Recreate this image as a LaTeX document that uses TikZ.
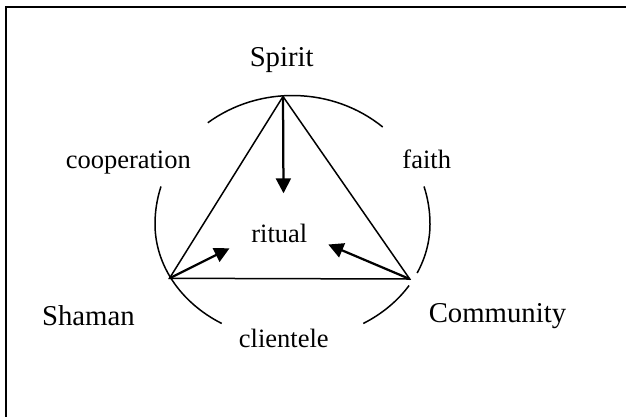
\documentclass[tikz,border=0pt]{standalone}
\usepackage{fontspec}
\setmainfont{Liberation Serif}
\usetikzlibrary{arrows.meta}

\tikzset{
  corner/.style={anchor=base,inner sep=0pt,font=\fontsize{11.5}{13}\selectfont},
  link/.style={anchor=base,inner sep=0pt,font=\fontsize{10.6}{12}\selectfont},
  side/.style={line width=0.6pt},
  flow/.style={line width=0.9pt,-{Triangle[length=6pt,width=6pt]}}
}

\begin{document}
\begin{tikzpicture}[x=0.4pt,y=0.4pt]
        \def\ra{55pt}   % half width of ring
        \def\rb{51.4pt} % upper half height
        \def\rc{46.4pt} % lower half height

        \useasboundingbox (0,0) rectangle (626,416);
        \clip (0,0) rectangle (626,416);
        \draw[line width=0.8pt] (6,-50) -- (6,409) -- (700,409);

        \coordinate (mid) at (292.5,192);
        \coordinate (sp) at (283,319.5);
        \coordinate (sh) at (169.5,137.7);
        \coordinate (co) at (409.7,137);
        \coordinate (sptip) at (283.5,222.7);
        \coordinate (shtip) at (229.5,167.7);
        \coordinate (cotip) at (328.3,171.5);

        % ring pieces
        \draw[side] (mid) ++(49:{\ra} and {\rb}) arc[start angle=49,end angle=128,x radius=\ra,y radius=\rb];
        \draw[side] (mid) ++(163:{\ra} and {\rb}) arc[start angle=163,end angle=180,x radius=\ra,y radius=\rb]
                arc[start angle=180,end angle=239,x radius=\ra,y radius=\rc];
        \draw[side] (mid) ++(-25:{\ra} and {\rc}) arc[start angle=-25,end angle=0,x radius=\ra,y radius=\rc]
                arc[start angle=0,end angle=17,x radius=\ra,y radius=\rb];
        \draw[side] (mid) ++(-59:{\ra} and {\rc}) arc[start angle=-59,end angle=-32,x radius=\ra,y radius=\rc];

        \draw[side] (sp) -- (sh) -- (co) -- cycle;
        \draw[flow] (sp) -- (sptip);
        \draw[flow] (sh) -- (shtip);
        \draw[flow] (co) -- (cotip);

        \node[corner] (spirit) at (281.7,349.3) {Spirit};
        \node[corner] (shaman) at (88.4,90.3) {Shaman};
        \node[corner] (community) at (497.5,93.7) {Community};
        \node[link] (coop) at (128.3,248) {cooperation};
        \node[link] (faith) at (426.7,248) {faith};
        \node[link] (ritual) at (279.3,173.3) {ritual};
        \node[link] (clientele) at (283.8,68.7) {clientele};
\end{tikzpicture}
\end{document}
